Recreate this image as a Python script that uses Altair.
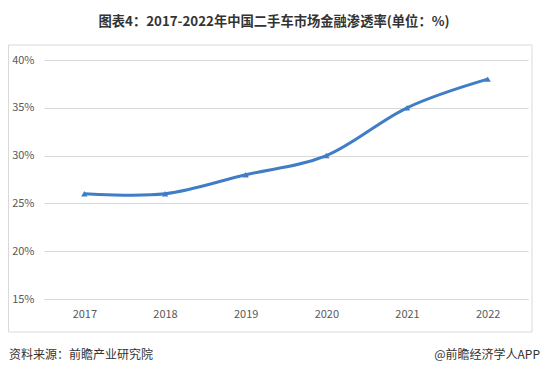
import altair as alt
import pandas as pd

years = ["2017", "2018", "2019", "2020", "2021", "2022"]
rates = [26, 26, 28, 30, 35, 38]
y_ticks = [15, 20, 25, 30, 35, 40]

title_text = "图表4：2017-2022年中国二手车市场金融渗透率(单位：%)"
source_text = "资料来源：前瞻产业研究院"
brand_text = "@前瞻经济学人APP"

df = pd.DataFrame({"year": years, "rate": rates})

FONT = "Noto Sans CJK SC"
LINE_COLOR = "#3f7dc6"

x_enc = alt.X(
    "year:N",
    sort=years,
    scale=alt.Scale(paddingInner=0, paddingOuter=0),
    axis=alt.Axis(
        title=None, labelAngle=0, ticks=False, domain=True, domainColor="#d9d9d9",
        labelColor="#595959", labelFontSize=11, labelPadding=9, labelFont=FONT,
    ),
)
y_enc = alt.Y(
    "rate:Q",
    scale=alt.Scale(domain=[15, 40], nice=False, zero=False),
    axis=alt.Axis(
        title=None, values=y_ticks, labelExpr="datum.value + '%'", ticks=False,
        domain=False, gridColor="#d9d9d9", labelColor="#595959", labelFontSize=11,
        labelPadding=10, labelFont=FONT,
    ),
)

base = alt.Chart(df)

line = base.mark_line(
    color=LINE_COLOR, strokeWidth=3, interpolate="cardinal", tension=0
).encode(x=x_enc, y=y_enc)

points = base.mark_point(
    shape="triangle-up", filled=True, color=LINE_COLOR, size=40, opacity=1
).encode(x=x_enc, y=y_enc)

frame = alt.Chart(pd.DataFrame({"a": [0]})).mark_rect(
    fill=None, stroke="#d9d9d9", strokeWidth=1
).encode(
    x=alt.value(-35.5), x2=alt.value(488), y=alt.value(-15), y2=alt.value(272)
)

title = alt.Chart(pd.DataFrame({"t": [title_text]})).mark_text(
    font=FONT, fontSize=13.3, fontWeight="bold", color="#333333", align="center", baseline="middle"
).encode(text="t:N", x=alt.value(230), y=alt.value(-38))

source = alt.Chart(pd.DataFrame({"t": [source_text]})).mark_text(
    font=FONT, fontSize=12, color="#333333", align="left", baseline="middle"
).encode(text="t:N", x=alt.value(-35), y=alt.value(295))

brand = alt.Chart(pd.DataFrame({"t": [brand_text]})).mark_text(
    font=FONT, fontSize=12, color="#333333", align="right", baseline="middle"
).encode(text="t:N", x=alt.value(496), y=alt.value(295))

chart = alt.layer(frame, line, points, title, source, brand).properties(
    width=484, height=239,
    autosize=alt.AutoSizeParams(type="none"),
    padding={"left": 36, "top": 52, "right": 13, "bottom": 68},
    background="white",
).configure_view(stroke=None)

chart.save("out.html", embed_options={"renderer": "svg", "actions": False})
